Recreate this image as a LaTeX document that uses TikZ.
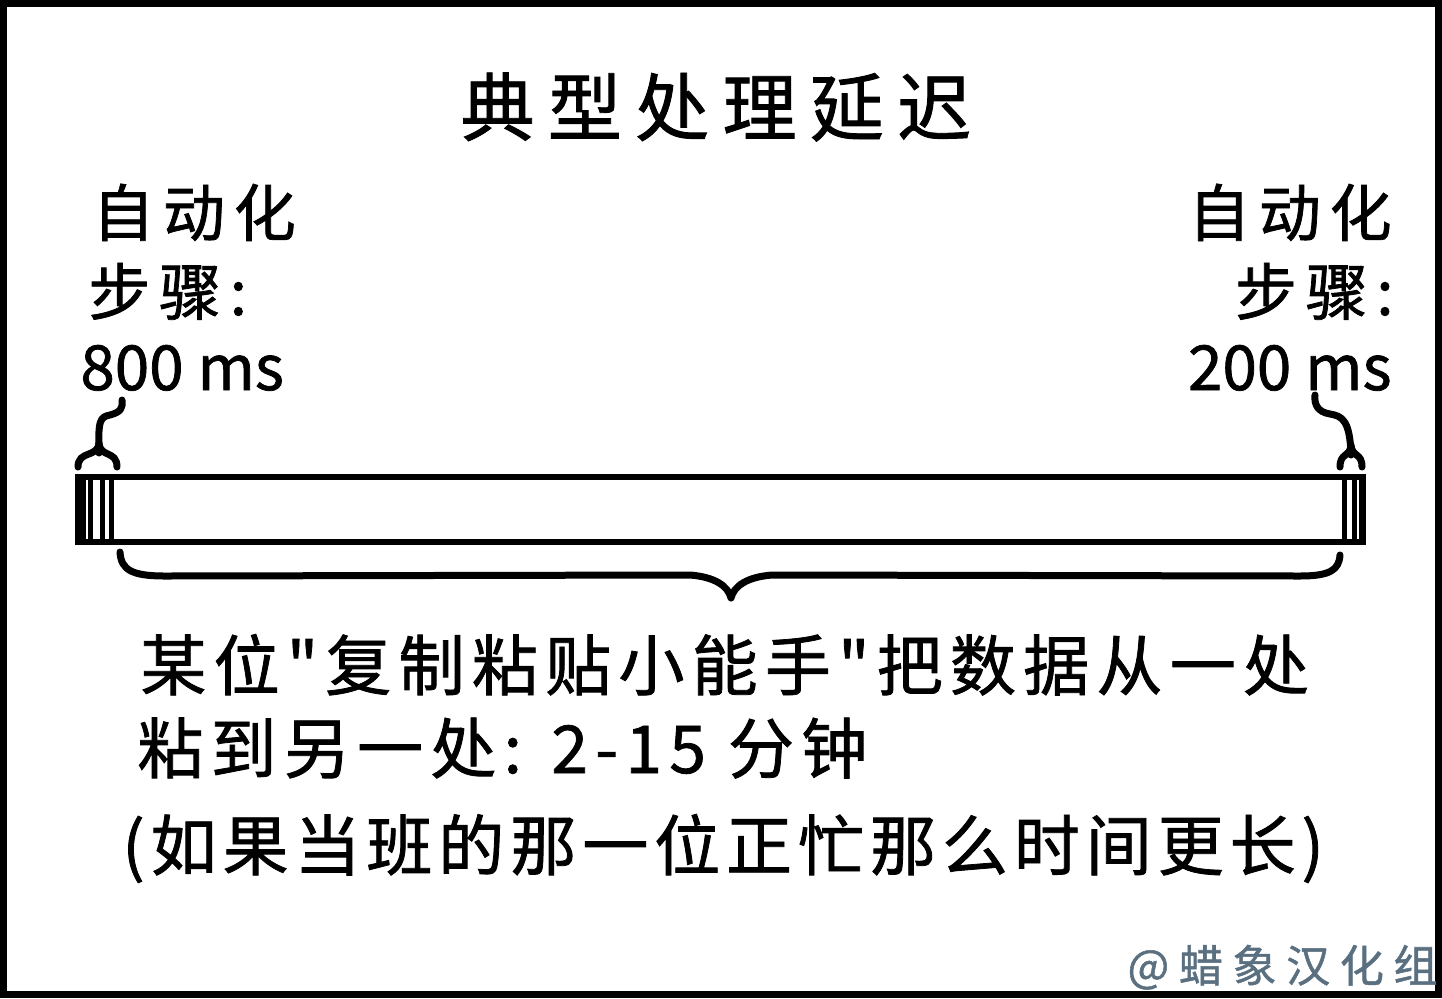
\documentclass[tikz,border=0pt]{standalone}
\usepackage{fontspec}
\setmainfont{Noto Sans CJK SC}[Ligatures=TeXOff, FakeBold=1.2]
\usetikzlibrary{positioning}
\definecolor{markgray}{HTML}{5A7080}
\tikzset{
  handline/.style={line width=3.5pt, line cap=round, line join=round},
  barbox/.style={draw, line width=3.2pt, minimum width=642.5pt, minimum height=32.5pt, inner sep=0pt},
  bartick/.style={line width=2.5pt},
  titletext/.style={font=\fontsize{37}{44}\selectfont\addfontfeature{LetterSpace=18}, inner sep=0pt, anchor=base},
  sidecjk/.style={font=\fontsize{31}{38}\selectfont\addfontfeature{LetterSpace=14}, inner sep=0pt},
  sidenum/.style={font=\fontsize{31}{38}\selectfont, inner sep=0pt},
  bodytext/.style={font=\fontsize{33}{40}\selectfont\addfontfeature{LetterSpace=9}, inner sep=0pt, anchor=base west},
  bodywide/.style={bodytext, font=\fontsize{33}{40}\selectfont\addfontfeature{LetterSpace=11}},
  marktext/.style={font=\fontsize{22}{26}\selectfont\addfontfeature{LetterSpace=22}, text=markgray, inner sep=0pt, anchor=base east},
}

\begin{document}
\begin{tikzpicture}[x=0.5pt, y=-0.5pt]
  \useasboundingbox (0,0) rectangle (1442,998);
  % 外框
  \draw[line width=3.5pt] (3.5,3.5) rectangle (1438.5,994.5);
  \node[titletext] (title) at (716,135) {典型处理延迟};
  % 左右两侧的说明
  \node[sidecjk, anchor=base west] (lauto) at (92,236) {自动化};
  \node[sidecjk, anchor=base west] (lstep) at (88,315) {步骤:};
  \node[sidenum, anchor=base west] (lms) at (80,390) {800 ms};
  \node[sidecjk, anchor=base east] (rauto) at (1392,236) {自动化};
  \node[sidecjk, anchor=base east] (rstep) at (1394,315) {步骤:};
  \node[sidenum, anchor=base east] (rms) at (1392,390) {200 ms};
  % 时间条
  \node[barbox] (bar) at (720.5,509.5) {};
  \foreach \dx in {9,16,28,37}
    \draw[bartick] ([xshift=\dx*0.5pt]bar.north west) -- ([xshift=\dx*0.5pt]bar.south west);
  \foreach \dx in {5,12,22}
    \draw[bartick] ([xshift=-\dx*0.5pt]bar.north east) -- ([xshift=-\dx*0.5pt]bar.south east);
  % 小括号和连线
  \coordinate (ltip) at (99,443);
  \coordinate (lhook) at (122,400);
  \coordinate (rtip) at (1351,445);
  \coordinate (rhook) at (1315,395);
  \draw[handline] (78,467) .. controls (78,450) and (98,458) .. (ltip)
    .. controls (100,458) and (117,450) .. (117,467);
  \draw[handline] ([yshift=-5pt]ltip) .. controls (98,420) and (100,417) .. (110,415)
    .. controls (121,412) and (123,408) .. (lhook);
  \draw[handline] (1340,467) .. controls (1340,452) and (1350,458) .. (rtip)
    .. controls (1352,458) and (1362,452) .. (1362,467);
  \draw[handline] ([yshift=-5pt]rtip) .. controls (1350,420) and (1342,416) .. (1330,414)
    .. controls (1318,412) and (1314,405) .. (rhook);
  % 下方大括号
  \coordinate (btip) at (731,598);
  \draw[handline] (120,552) .. controls (121,570) and (132,576) .. (165,576) -- (690,575)
    .. controls (715,577) and (728,586) .. (btip)
    .. controls (734,586) and (747,577) .. (772,575) -- (1300,576)
    .. controls (1330,576) and (1339,570) .. (1340,555);
  % 说明文字
  \node[bodywide] (line1) at (140,690) {某位"复制粘贴小能手"把数据从一处};
  \node[bodywide] (line2) at (137,773) {粘到另一处: 2-15 分钟};
  \node[bodytext] (line3) at (122,870) {(如果当班的那一位正忙那么时间更长)};
  \node[marktext] (mark) at (1438,982) {@蜡象汉化组};
\end{tikzpicture}
\end{document}
